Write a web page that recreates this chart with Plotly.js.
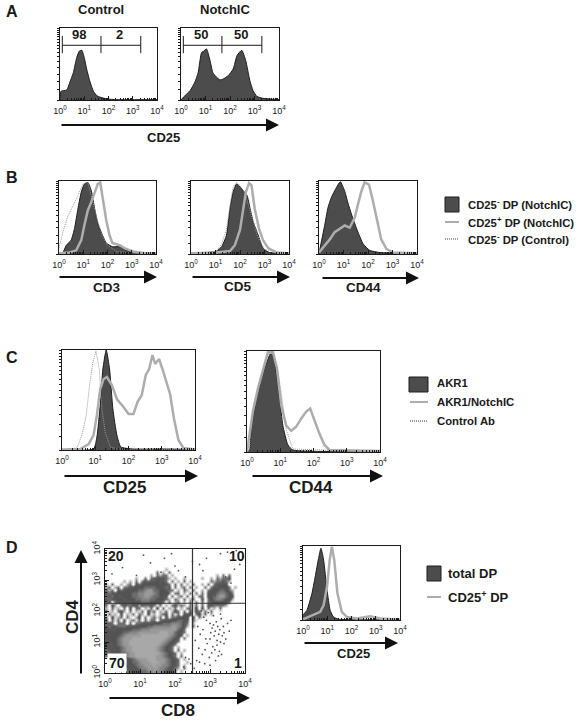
<!DOCTYPE html>
<html><head><meta charset="utf-8">
<script src="https://cdn.plot.ly/plotly-3.0.1.min.js"></script>
<style>html,body{margin:0;padding:0;background:#fff}</style></head>
<body><div id="chart" style="width:583px;height:721px"></div>
<script>
// Histogram values: x in log10 decades, y in % of panel height
const a1X=[0,0.04,0.28,0.41,0.55,0.69,0.8,0.9,1.0,1.1,1.24,1.38,1.52,1.65,1.93,2.34,4];
const a1Y=[0,12,14,25,38,59,68,69,59,43,25,12,6,4,1.5,0.5,0.5];
const a2X=[0,0.1,0.37,0.57,0.7,0.84,0.93,1.04,1.17,1.3,1.44,1.59,1.72,1.93,2.13,2.29,2.48,2.64,2.81,2.94,3.1,3.35,4];
const a2Y=[0,4,13,25,38,66,68,71,57,38,32,28,29,34,43,62,69,55,27,13,5,2.3,0.5];
const b1FillX=[0,0.16,0.3,0.5,0.64,0.78,0.92,1.05,1.19,1.33,1.47,1.6,1.74,1.95,2.2,2.5,2.77,3.18,4];
const b1FillY=[0,2,12,19,35,62,85,96,98,87,62,42,30,15,10,10,5,2,1];
const b1GrayX=[0,0.44,0.71,0.92,1.05,1.19,1.33,1.47,1.6,1.7,1.8,1.95,2.08,2.2,2.5,2.7,3.1,3.6,4];
const b1GrayY=[1,2,5,19,40,60,71,85,96,98,76,46,26,15,12,8,3,1,1];
const b1CtrlX=[0,0.16,0.37,0.58,0.78,0.99,1.19,1.4,1.6,1.8,2.0,2.4,4];
const b1CtrlY=[8,30,52,66,80,96,98,71,44,24,12,3,0];
const b2FillX=[0,1.04,1.25,1.45,1.59,1.72,1.86,2,2.13,2.29,2.4,2.54,2.74,2.94,3.2,4];
const b2FillY=[0,4,10,26,62,85,96,92,87,80,64,44,26,8,2,1];
const b2GrayX=[0,1.04,1.59,1.79,2,2.13,2.24,2.37,2.47,2.6,2.78,2.94,3.15,3.5,4];
const b2GrayY=[1,2,4,12,33,62,85,97,94,62,34,19,8,2,1];
const b2CtrlX=[0,1.04,1.25,1.45,1.59,1.72,1.86,2,2.2,2.4,2.7,3,4];
const b2CtrlY=[0,4,14,34,66,92,98,94,84,60,26,6,0];
const b3FillX=[0,0.05,0.23,0.37,0.5,0.71,0.87,1.05,1.18,1.39,1.59,1.8,2.07,2.48,4];
const b3FillY=[0,9,39,64,77,91,99,86,70,48,30,14,5,2,1];
const b3GrayX=[0,0.23,0.44,0.64,0.84,1.05,1.25,1.46,1.59,1.73,1.86,2.04,2.2,2.37,2.54,2.75,3.02,4];
const b3GrayY=[2,11,20,30,34,39,36,50,68,86,98,95,73,45,20,7,2,1];
const c1FillX=[0,0.95,1.05,1.15,1.23,1.33,1.43,1.53,1.65,1.77,2.15,3.15,4];
const c1FillY=[0,1,13,45,81,100,81,41,15,3,1,1,0.5];
const c1GrayX=[0,0.55,0.8,0.95,1.05,1.15,1.25,1.35,1.5,1.65,1.85,2,2.15,2.27,2.4,2.52,2.62,2.72,2.8,2.92,3.02,3.12,3.25,3.37,3.5,3.65,4];
const c1GrayY=[0.5,1,6,15,35,61,71,73,65,51,43,36,36,48,55,75,81,95,86,91,81,71,56,31,10,2,0.5];
const c1CtrlX=[0,0.45,0.6,0.73,0.83,0.93,1.02,1.12,1.2,1.3,1.45,1.65,4];
const c1CtrlY=[0,2,15,35,65,88,99,81,41,18,3,1,0];
const c2FillX=[0,0.08,0.13,0.28,0.43,0.58,0.7,0.78,0.88,0.98,1.08,1.23,1.38,4];
const c2FillY=[0,2,28,50,73,87,97,96,79,53,26,7,2,1];
const c2GrayX=[0,0.08,0.18,0.33,0.48,0.63,0.78,0.9,1.03,1.18,1.33,1.48,1.63,1.78,1.9,2.03,2.18,2.33,2.48,4];
const c2GrayY=[0,20,41,63,81,99,99,83,46,26,21,25,33,40,43,31,18,7,2,1];
const c2CtrlX=[0,0.08,0.13,0.28,0.43,0.63,0.78,0.93,1.03,1.18,1.38,4];
const c2CtrlY=[0,3,30,50,75,97,99,80,58,22,3,0];
const d2FillX=[0,0.16,0.37,0.5,0.64,0.74,0.85,0.99,1.12,1.26,1.47,4];
const d2FillY=[7,13,36,58,83,97,81,41,13,4,1,0.5];
const d2GrayX=[0,0.44,0.71,0.85,0.99,1.1,1.19,1.29,1.42,1.6,1.81,2.22,2.77,3.18,4];
const d2GrayY=[1,7,11,20,45,81,99,81,36,11,4,2,5,2,0.5];

// Gate positions (decades / % height)
const gate1X=[0.095,0.095,null,0.095,1.69,3.33,null,1.69,1.69,null,3.33,3.33];
const gate2X=[0.095,0.095,null,0.095,1.67,3.3,null,1.67,1.67,null,3.3,3.3];
const gateY=[65,89,null,76,76,76,null,65,89,null,65,89];

// Dot-plot density, read cell by cell from top (10^4) to bottom (10^0)
const densityRows=[
"00000000000000000000000000000000000000000000000",
"00000000000000000000000000000000000000000000000",
"00000000000000000000000000000000000000000000000",
"00000000000000000000000000000000000000000000000",
"00000000000000000000000000000000000000000000000",
"00000000000000000000000000000000000000000000000",
"00000000000000000000200000000000000000000000000",
"00000000000000000302030000000000000000000000000",
"00000000000000020323302000000000000002030300000",
"00000000002003033444320200200000200203233400000",
"00000020203034344544303020302000000323343200000",
"20300202304345555545430303020300203034454000000",
"23023033445556666554340302303020030344555302000",
"32304345555667886655433020320300203455665320000",
"43445555566778887655530330203030304556776530000",
"34354455566778876654403023030203304567886540000",
"43445545556677766554320320302300403567765520000",
"34034454455566655443030230203030303455554300000",
"30420343344243343130203423203130304433332000000",
"20312030403302130403021302033140403120300000000",
"31203420302130423021302430304143130300100000000",
"03120402130320412023403130445034130200000000000",
"30412303102403023130413344550403100000000000000",
"40313040231303133034445566540310000000000000000",
"34303330303344445556667776430200000000000000000",
"43443334444555667777778876420300000000000000000",
"54445555566677788888888865300000000000000000000",
"55555566777888888899988654300000000000000000000",
"54555678888899999999987654020000000000000000000",
"55556788899999999999876540300000000000000000000",
"45556788999999999998765430000000000000000000000",
"54456788999999999987654300000000000000000000000",
"45455678899999999876543020000000000000000000000",
"34545678899999999876543030200000000000000000000",
"43454667889999999987654302000000000000000000000",
"34445667889999999887654303000000000000000000000",
"00000004567888999888765430200000000000000000000",
"00000004566788899988765430020000000000000000000",
"00000005456778889887765430200000000000000000000",
"00000004545677888877654320300000000000000000000",
"00000003454566778776554302000000000000000000000"];
// Sparse single events
const dotsX=[2.6,2.7,2.75,2.82,2.9,2.95,3.0,3.02,3.06,3.1,3.12,3.15,3.18,3.2,3.22,3.25,3.28,3.3,3.32,3.35,3.38,3.4,3.45,3.5,3.55,3.6,2.65,2.72,2.8,2.88,2.92,3.0,3.08,3.14,3.2,3.27,3.33,3.4,2.58,2.68,2.78,2.86,2.98,3.05,3.16,3.24,2.7,2.85,3.0,3.1,3.3,2.3,2.45,2.55,2.25,2.4,2.62,
0.5,0.9,1.3,1.7,2.1,2.5,0.2,1.1,1.6,2.0,2.3,2.7,1.9,1.4,3.5,3.7,3.9,3.6,3.85,3.45,3.95,3.1,3.3,2.9,3.75,2.8,3.15];
const dotsY=[2.1,1.9,2.0,1.8,1.7,1.95,1.6,1.3,1.45,1.55,1.2,1.35,1.65,1.05,1.5,1.25,1.4,1.0,1.75,1.2,1.5,1.3,1.1,1.6,1.35,1.7,1.5,1.25,1.4,1.1,0.95,1.1,0.85,0.75,0.9,0.7,0.6,0.95,1.05,0.8,0.6,0.75,0.5,0.65,0.4,0.55,0.35,0.3,0.25,1.85,1.9,0.5,0.3,0.15,0.2,0.45,0.4,
3.4,3.15,3.55,3.7,3.3,3.6,3.2,3.8,3.25,3.45,3.1,3.5,3.85,3.05,3.9,3.35,3.65,2.9,3.5,3.1,3.75,2.6,3.85,3.7,3.95,3.3,2.5,3.3,3.6];

const tickValues=[1,10,100,1000,10000];
const tickLabels=["10<sup>0</sup>","10<sup>1</sup>","10<sup>2</sup>","10<sup>3</sup>","10<sup>4</sup>"];
const histYTicks=[0,14,26,36,45,53,60,66,71,76,80,84,88,91,94,97,100];
const quadrantX=[2.5,2.5,null,0,4];
const quadrantY=[0,4,null,2.25,2.25];

const W=583,H=721;
const dec=a=>a.map(d=>d===null?null:Math.pow(10,d));
const FILL='#4c4c4c',EDGE='#1c1c1c',GRAY='#adadad',CTRL='#9a9a9a',INK='#1a1a1a';
const FONT='"Liberation Sans",Arial,sans-serif';

// panel frames in pixels: left, right, top, bottom
const frames=[[60,157,28,100],[181,279,28,100],[59,156,181,254],[191,289,181,254],[319,417,181,254],
 [62,195,350,450],[247,380,351,452],[105,245,549,673],[303,400,546,620]];
const layout={width:W,height:H,margin:{l:0,r:0,t:0,b:0},paper_bgcolor:'#fff',plot_bgcolor:'#fff',
 showlegend:false,font:{family:FONT,color:INK},annotations:[],shapes:[]};
frames.forEach((f,i)=>{
 const n=i+1, sfx=n===1?'':n;
 layout['xaxis'+sfx]={domain:[f[0]/W,f[1]/W],anchor:'y'+sfx,type:'log',range:[0,4],tickmode:'array',
  tickvals:tickValues,ticktext:tickLabels,ticks:'inside',ticklen:4,tickcolor:INK,tickwidth:1,ticklabelstandoff:2,
  showline:true,mirror:true,linecolor:INK,linewidth:1,showgrid:false,zeroline:false,fixedrange:true,
  tickfont:{size:9,color:INK},tickangle:0,minor:{ticks:'inside',ticklen:2,dtick:'D1',tickcolor:INK,showgrid:false}};
 layout['yaxis'+sfx]= n===8 ? {domain:[1-f[3]/H,1-f[2]/H],anchor:'x'+sfx,type:'log',range:[0,4],tickmode:'array',
  tickvals:tickValues,ticktext:tickLabels,ticks:'inside',ticklen:4,tickcolor:INK,showline:true,mirror:true,
  linecolor:INK,linewidth:1,showgrid:false,zeroline:false,fixedrange:true,tickfont:{size:9,color:INK},tickangle:-90,
  minor:{ticks:'inside',ticklen:2,dtick:'D1',tickcolor:INK,showgrid:false}}
 : {domain:[1-f[3]/H,1-f[2]/H],anchor:'x'+sfx,type:'linear',range:[0,100],tickmode:'array',tickvals:histYTicks,
  showticklabels:false,ticks:'outside',ticklen:2,tickcolor:INK,tickwidth:1,showline:true,mirror:true,linecolor:INK,linewidth:1,
  showgrid:false,zeroline:false,fixedrange:true};
});
const ax=n=>({xaxis:'x'+(n===1?'':n),yaxis:'y'+(n===1?'':n),hoverinfo:'skip',mode:'lines'});
const fill=(n,x,y)=>Object.assign(ax(n),{type:'scatter',x:dec(x),y,fill:'tozeroy',fillcolor:FILL,line:{color:EDGE,width:1,shape:'spline',smoothing:0.5}});
const gray=(n,x,y)=>Object.assign(ax(n),{type:'scatter',x:dec(x),y,line:{color:GRAY,width:2.5}});
const ctrl=(n,x,y)=>Object.assign(ax(n),{type:'scatter',x:dec(x),y,line:{color:CTRL,width:1,dash:'1px,1px'}});
const gate=(n,x)=>Object.assign(ax(n),{type:'scatter',x:dec(x),y:gateY,line:{color:INK,width:1}});

const rowCenters=densityRows.map((r,i)=>Math.pow(10,4-(i+0.5)*4/densityRows.length));
const colCenters=densityRows[0].split('').map((c,i)=>Math.pow(10,(i+0.5)*4/densityRows[0].length));
const density=densityRows.map(r=>r.split('').map(Number));
const data=[
 fill(1,a1X,a1Y),gate(1,gate1X),
 fill(2,a2X,a2Y),gate(2,gate2X),
 fill(3,b1FillX,b1FillY),ctrl(3,b1CtrlX,b1CtrlY),gray(3,b1GrayX,b1GrayY),
 fill(4,b2FillX,b2FillY),ctrl(4,b2CtrlX,b2CtrlY),gray(4,b2GrayX,b2GrayY),
 fill(5,b3FillX,b3FillY),gray(5,b3GrayX,b3GrayY),
 fill(6,c1FillX,c1FillY),ctrl(6,c1CtrlX,c1CtrlY),gray(6,c1GrayX,c1GrayY),
 fill(7,c2FillX,c2FillY),gray(7,c2GrayX,c2GrayY),ctrl(7,c2CtrlX,c2CtrlY),
 {type:'heatmap',xaxis:'x8',yaxis:'y8',x:colCenters,y:rowCenters,z:density,zmin:0,zmax:9,showscale:false,hoverinfo:'skip',zsmooth:'best',
  colorscale:[[0,'#ffffff'],[0.11,'#dddddd'],[0.22,'#b0b0b0'],[0.33,'#707070'],[0.44,'#585858'],[0.55,'#525252'],[0.66,'#6a6a6a'],[0.77,'#838383'],[0.88,'#989898'],[1,'#a8a8a8']]},
 {type:'scatter',mode:'markers',xaxis:'x8',yaxis:'y8',x:dec(dotsX),y:dec(dotsY),marker:{size:1.8,color:'#555'},hoverinfo:'skip'},
 Object.assign(ax(8),{type:'scatter',x:dec(quadrantX),y:dec(quadrantY),line:{color:'#333',width:1.2}}),
 fill(9,d2FillX,d2FillY),gray(9,d2GrayX,d2GrayY)
];

const px=x=>x/W, py=y=>1-y/H;
function label(text,x,y,size,bold,extra){
 layout.annotations.push(Object.assign({xref:'paper',yref:'paper',x:px(x),y:py(y),text:bold?'<b>'+text+'</b>':text,showarrow:false,
  font:{size,color:INK,family:FONT},xanchor:'center',yanchor:'middle'},extra||{}));
}
function arrow(x0,y0,x1,y1){
 layout.annotations.push({xref:'paper',yref:'paper',x:px(x1),y:py(y1),ax:x0-x1,ay:y0-y1,axref:'pixel',ayref:'pixel',text:'',showarrow:true,
  arrowhead:2,arrowsize:1.3,arrowwidth:2,arrowcolor:'#111',standoff:0});
}
[['A',12,12],['B',12,177],['C',12,357],['D',12,547]].forEach(t=>label(t[0],t[1],t[2],16,true));
label('Control',101,10,13,true);label('NotchIC',225,10,13,true);
label('98',79,35,13,true);label('2',119,35,13,true);label('50',201,35,13,true);label('50',241,35,13,true);
label('CD25',163,137,13,true);
label('CD3',106,287,13.5,true);label('CD5',237,286,13.5,true);label('CD44',363,287,13.5,true);
label('CD25',124,487,17,true);label('CD44',311,487,17,true);
label('CD8',178,710,17,true);label('CD4',72,617,17,true,{textangle:-90});
label('CD25',353,653,13,true);
label('20',116,556,14,true);label('10',237,556,14,true);label('1',238,663,14,true);
label('70',117,663,14,true,{bgcolor:'#fff'});
const leg=(text,x,y,size)=>label(text,x-2,y,size,true,{xanchor:'left'});
leg('CD25<sup>-</sup> DP (NotchIC)',468,204,11.3);leg('CD25<sup>+</sup> DP (NotchIC)',468,222,11.3);leg('CD25<sup>-</sup> DP (Control)',468,239,11.3);
leg('AKR1',437,383,11.3);leg('AKR1/NotchIC',437,402,11.3);leg('Control Ab',437,421,11.3);
leg('total DP',448,573,13);leg('CD25<sup>+</sup> DP',448,597,13);

arrow(60,125,279,125);
arrow(58,277,157,277);arrow(191,277,290,277);arrow(321,278,419,278);
arrow(63,476,198,476);arrow(251,476,383,476);
arrow(108,698,250,698);arrow(81,675,81,550);
arrow(303,643,398,643);

function swatch(x0,x1,y0,y1){layout.shapes.push({type:'rect',xref:'paper',yref:'paper',x0:px(x0),x1:px(x1),y0:py(y0),y1:py(y1),fillcolor:FILL,line:{color:EDGE,width:1}});}
function key(x0,x1,y,color,w,dash){layout.shapes.push({type:'line',xref:'paper',yref:'paper',x0:px(x0),x1:px(x1),y0:py(y),y1:py(y),line:{color,width:w,dash:dash||'solid'}});}
swatch(445,459,197,212);key(445,459,222,GRAY,2);key(445,459,239,'#444',1,'1px,1px');
swatch(409,428,377,392);key(410,428,402,GRAY,2);key(410,428,421,'#333',1,'1px,1px');
swatch(427,441,566,581);key(427,441,597,GRAY,2);

Plotly.newPlot('chart',data,layout,{displayModeBar:false,staticPlot:true});
</script></body></html>
